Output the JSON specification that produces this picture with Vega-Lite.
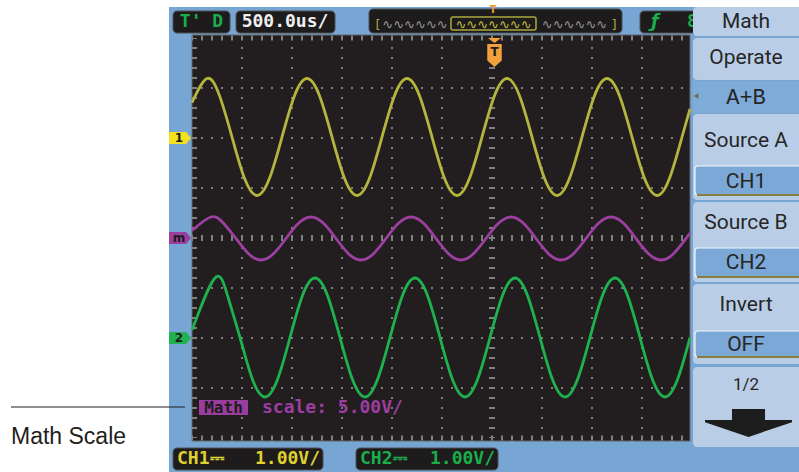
{
"$schema":"https://vega.github.io/schema/vega-lite/v6.json",
"width":799,"height":472,"autosize":{"type":"none"},"padding":0,
"background":"#ffffff",
"config":{"view":{"stroke":null}},
"datasets":{
"frame":[{"t":-3.23,"t2":3.2,"d":4.62,"d2":-4.8}],
"plot":[{"t":-3.0,"t2":1.98,"d":4.06,"d2":-4.06}],
"gridV":[{"t":-2.5,"d":4.0,"d2":-4.0},{"t":-2.0,"d":4.0,"d2":-4.0},{"t":-1.5,"d":4.0,"d2":-4.0},{"t":-1.0,"d":4.0,"d2":-4.0},{"t":-0.5,"d":4.0,"d2":-4.0},{"t":0.5,"d":4.0,"d2":-4.0},{"t":1.0,"d":4.0,"d2":-4.0},{"t":1.5,"d":4.0,"d2":-4.0}],
"gridH":[{"d":3,"t":-3.0,"t2":1.98},{"d":2,"t":-3.0,"t2":1.98},{"d":1,"t":-3.0,"t2":1.98},{"d":-1,"t":-3.0,"t2":1.98},{"d":-2,"t":-3.0,"t2":1.98},{"d":-3,"t":-3.0,"t2":1.98}],
"ticks":[{"kind":"edge","t":-3.0,"t2":1.98,"d":4.0,"d2":4.0},{"kind":"edge","t":-3.0,"t2":1.98,"d":-4.0,"d2":-4.0},{"kind":"edge","t":-2.975,"t2":-2.975,"d":4.0,"d2":-4.0},{"kind":"center","t":-3.0,"t2":1.98,"d":0,"d2":0},{"kind":"center","t":0,"t2":0,"d":4.0,"d2":-4.0}],
"traces":[
{"ch":"CH1","t":-3.0,"d":2.708},{"ch":"CH1","t":-2.85,"d":3.19},{"ch":"CH1","t":-2.725,"d":2.847},{"ch":"CH1","t":-2.6,"d":2.02},{"ch":"CH1","t":-2.475,"d":1.193},{"ch":"CH1","t":-2.35,"d":0.85},{"ch":"CH1","t":-2.225,"d":1.193},{"ch":"CH1","t":-2.1,"d":2.02},{"ch":"CH1","t":-1.975,"d":2.847},{"ch":"CH1","t":-1.85,"d":3.19},{"ch":"CH1","t":-1.725,"d":2.847},{"ch":"CH1","t":-1.6,"d":2.02},{"ch":"CH1","t":-1.475,"d":1.193},{"ch":"CH1","t":-1.35,"d":0.85},{"ch":"CH1","t":-1.225,"d":1.193},{"ch":"CH1","t":-1.1,"d":2.02},{"ch":"CH1","t":-0.975,"d":2.847},{"ch":"CH1","t":-0.85,"d":3.19},{"ch":"CH1","t":-0.725,"d":2.847},{"ch":"CH1","t":-0.6,"d":2.02},{"ch":"CH1","t":-0.475,"d":1.193},{"ch":"CH1","t":-0.35,"d":0.85},{"ch":"CH1","t":-0.225,"d":1.193},{"ch":"CH1","t":-0.1,"d":2.02},{"ch":"CH1","t":0.025,"d":2.847},{"ch":"CH1","t":0.15,"d":3.19},{"ch":"CH1","t":0.275,"d":2.847},{"ch":"CH1","t":0.4,"d":2.02},{"ch":"CH1","t":0.525,"d":1.193},{"ch":"CH1","t":0.65,"d":0.85},{"ch":"CH1","t":0.775,"d":1.193},{"ch":"CH1","t":0.9,"d":2.02},{"ch":"CH1","t":1.025,"d":2.847},{"ch":"CH1","t":1.15,"d":3.19},{"ch":"CH1","t":1.275,"d":2.847},{"ch":"CH1","t":1.4,"d":2.02},{"ch":"CH1","t":1.525,"d":1.193},{"ch":"CH1","t":1.65,"d":0.85},{"ch":"CH1","t":1.775,"d":1.193},{"ch":"CH1","t":1.9,"d":2.02},{"ch":"CH1","t":1.98,"d":2.584},
{"ch":"CH2","t":-3.0,"d":-1.841},{"ch":"CH2","t":-2.77,"d":-0.8},{"ch":"CH2","t":-2.645,"d":-1.149},{"ch":"CH2","t":-2.52,"d":-1.99},{"ch":"CH2","t":-2.395,"d":-2.831},{"ch":"CH2","t":-2.27,"d":-3.18},{"ch":"CH2","t":-2.145,"d":-2.831},{"ch":"CH2","t":-2.02,"d":-1.99},{"ch":"CH2","t":-1.895,"d":-1.149},{"ch":"CH2","t":-1.77,"d":-0.8},{"ch":"CH2","t":-1.645,"d":-1.149},{"ch":"CH2","t":-1.52,"d":-1.99},{"ch":"CH2","t":-1.395,"d":-2.831},{"ch":"CH2","t":-1.27,"d":-3.18},{"ch":"CH2","t":-1.145,"d":-2.831},{"ch":"CH2","t":-1.02,"d":-1.99},{"ch":"CH2","t":-0.895,"d":-1.149},{"ch":"CH2","t":-0.77,"d":-0.8},{"ch":"CH2","t":-0.645,"d":-1.149},{"ch":"CH2","t":-0.52,"d":-1.99},{"ch":"CH2","t":-0.395,"d":-2.831},{"ch":"CH2","t":-0.27,"d":-3.18},{"ch":"CH2","t":-0.145,"d":-2.831},{"ch":"CH2","t":-0.02,"d":-1.99},{"ch":"CH2","t":0.105,"d":-1.149},{"ch":"CH2","t":0.23,"d":-0.8},{"ch":"CH2","t":0.355,"d":-1.149},{"ch":"CH2","t":0.48,"d":-1.99},{"ch":"CH2","t":0.605,"d":-2.831},{"ch":"CH2","t":0.73,"d":-3.18},{"ch":"CH2","t":0.855,"d":-2.831},{"ch":"CH2","t":0.98,"d":-1.99},{"ch":"CH2","t":1.105,"d":-1.149},{"ch":"CH2","t":1.23,"d":-0.8},{"ch":"CH2","t":1.355,"d":-1.149},{"ch":"CH2","t":1.48,"d":-1.99},{"ch":"CH2","t":1.605,"d":-2.831},{"ch":"CH2","t":1.73,"d":-3.18},{"ch":"CH2","t":1.855,"d":-2.831},{"ch":"CH2","t":1.98,"d":-1.99},
{"ch":"Math","t":-3.0,"d":0.148},{"ch":"Math","t":-2.81,"d":0.42},{"ch":"Math","t":-2.685,"d":0.294},{"ch":"Math","t":-2.56,"d":-0.01},{"ch":"Math","t":-2.435,"d":-0.314},{"ch":"Math","t":-2.31,"d":-0.44},{"ch":"Math","t":-2.185,"d":-0.314},{"ch":"Math","t":-2.06,"d":-0.01},{"ch":"Math","t":-1.935,"d":0.294},{"ch":"Math","t":-1.81,"d":0.42},{"ch":"Math","t":-1.685,"d":0.294},{"ch":"Math","t":-1.56,"d":-0.01},{"ch":"Math","t":-1.435,"d":-0.314},{"ch":"Math","t":-1.31,"d":-0.44},{"ch":"Math","t":-1.185,"d":-0.314},{"ch":"Math","t":-1.06,"d":-0.01},{"ch":"Math","t":-0.935,"d":0.294},{"ch":"Math","t":-0.81,"d":0.42},{"ch":"Math","t":-0.685,"d":0.294},{"ch":"Math","t":-0.56,"d":-0.01},{"ch":"Math","t":-0.435,"d":-0.314},{"ch":"Math","t":-0.31,"d":-0.44},{"ch":"Math","t":-0.185,"d":-0.314},{"ch":"Math","t":-0.06,"d":-0.01},{"ch":"Math","t":0.065,"d":0.294},{"ch":"Math","t":0.19,"d":0.42},{"ch":"Math","t":0.315,"d":0.294},{"ch":"Math","t":0.44,"d":-0.01},{"ch":"Math","t":0.565,"d":-0.314},{"ch":"Math","t":0.69,"d":-0.44},{"ch":"Math","t":0.815,"d":-0.314},{"ch":"Math","t":0.94,"d":-0.01},{"ch":"Math","t":1.065,"d":0.294},{"ch":"Math","t":1.19,"d":0.42},{"ch":"Math","t":1.315,"d":0.294},{"ch":"Math","t":1.44,"d":-0.01},{"ch":"Math","t":1.565,"d":-0.314},{"ch":"Math","t":1.69,"d":-0.44},{"ch":"Math","t":1.815,"d":-0.314},{"ch":"Math","t":1.94,"d":-0.01},{"ch":"Math","t":1.98,"d":0.097}
],
"markers":[{"ch":"CH1","t":-3.12,"d":2},{"ch":"Math","t":-3.12,"d":0},{"ch":"CH2","t":-3.12,"d":-2}],
"hdrBoxes":[{"t":-3.19,"t2":-2.62,"d":4.54,"d2":4.1},{"t":-2.56,"t2":-1.57,"d":4.54,"d2":4.1},{"t":-1.23,"t2":1.3,"d":4.58,"d2":4.1},{"t":1.48,"t2":2.1,"d":4.54,"d2":4.1},{"t":-3.19,"t2":-1.69,"d":-4.2,"d2":-4.64},{"t":-1.36,"t2":0.06,"d":-4.2,"d2":-4.64}],
"ovWin":[{"t":-0.41,"t2":0.44,"d":4.42,"d2":4.16}],
"mathBox":[{"t":-2.93,"t2":-2.44,"d":-3.24,"d2":-3.54}],
"trigMark":[{"t":0.025,"d":3.71}],
"txt":[
{"s":"mc","label":"T' D","t":-2.905,"d":4.32,"g":"green"},
{"s":"mc","label":"500.0us/","t":-2.07,"d":4.32,"g":"white"},
{"s":"mcs","label":"Math","t":-2.685,"d":-3.39,"g":"dark"},
{"s":"ml","label":"CH1⎓","t":-3.15,"d":-4.42,"g":"yellow"},
{"s":"ml","label":"CH2⎓","t":-1.32,"d":-4.42,"g":"green"},
{"s":"ml","label":"scale: 5.00V/","t":-2.3,"d":-3.39,"g":"purple"},
{"s":"ml","label":"8","t":1.95,"d":4.32,"g":"green"},
{"s":"mr","label":"1.00V/","t":-1.72,"d":-4.42,"g":"yellow"},
{"s":"mr","label":"1.00V/","t":0.03,"d":-4.42,"g":"green"},
{"s":"zz","label":"∿∿∿∿∿∿","t":-0.77,"d":4.27,"g":"gray"},
{"s":"zz","label":"∿∿∿∿∿∿∿","t":0.015,"d":4.27,"g":"yellowz"},
{"s":"zz","label":"∿∿∿∿∿∿","t":0.825,"d":4.27,"g":"gray"},
{"s":"zz","label":"[","t":-1.14,"d":4.27,"g":"olive"},
{"s":"zz","label":"]","t":1.22,"d":4.27,"g":"olive"},
{"s":"top","label":"T","t":0.01,"d":4.56,"g":"orange"},
{"s":"sm","label":"T","t":0.025,"d":3.72,"g":"dark"},
{"s":"sm","label":"1","t":-3.13,"d":2,"g":"dark"},
{"s":"sm","label":"m","t":-3.13,"d":0,"g":"dark"},
{"s":"sm","label":"2","t":-3.13,"d":-2,"g":"dark"},
{"s":"trig","label":"ƒ","t":1.63,"d":4.32,"g":"green"}
],
"menuBtns":[{"t":2.01,"t2":3.2,"d":4.62,"d2":4.04},{"t":2.01,"t2":3.2,"d":4.0,"d2":3.16},{"t":2.01,"t2":3.2,"d":2.48,"d2":0.76},{"t":2.01,"t2":3.2,"d":0.72,"d2":-0.88},{"t":2.01,"t2":3.2,"d":-0.92,"d2":-2.52},{"t":2.01,"t2":3.2,"d":-2.58,"d2":-4.18}],
"selRow":[{"t":2.01,"t2":3.2,"d":3.14,"d2":2.5}],
"valBoxes":[{"t":2.03,"t2":3.2,"d":1.44,"d2":0.86},{"t":2.03,"t2":3.2,"d":-0.2,"d2":-0.78},{"t":2.03,"t2":3.2,"d":-1.86,"d2":-2.38}],
"valLines":[{"t":2.05,"t2":3.2,"d":0.86},{"t":2.05,"t2":3.2,"d":-0.78},{"t":2.05,"t2":3.2,"d":-2.38}],
"menuText":[
{"f":"s","label":"Math","t":2.54,"d":4.32},
{"f":"s","label":"Operate","t":2.54,"d":3.6},
{"f":"m","label":"A+B","t":2.54,"d":2.82},
{"f":"s","label":"Source A","t":2.54,"d":1.94},
{"f":"s","label":"CH1","t":2.54,"d":1.12},
{"f":"s","label":"Source B","t":2.54,"d":0.3},
{"f":"s","label":"CH2","t":2.54,"d":-0.5},
{"f":"s","label":"Invert","t":2.54,"d":-1.34},
{"f":"s","label":"OFF","t":2.54,"d":-2.14},
{"f":"h","label":"1/2","t":2.54,"d":-2.94}
],
"menuTri":[{"t":2.04,"d":2.84}],
"arrow":[{"t":2.565,"d":-3.7}],
"annLine":[{"t":-4.81,"t2":-3.07,"d":-3.38}],
"annText":[{"label":"Math Scale","t":-4.81,"d":-3.98}]
},
"encoding":{
"x":{"field":"t","type":"quantitative","scale":{"domain":[-4.92,3.07],"nice":false,"zero":false},"axis":null},
"y":{"field":"d","type":"quantitative","scale":{"domain":[-4.68,4.76],"nice":false,"zero":false},"axis":null}
},
"layer":[
{"data":{"name":"frame"},"mark":{"type":"rect","fill":"#77a6d5"},"encoding":{"x2":{"field":"t2"},"y2":{"field":"d2"}}},
{"data":{"name":"hdrBoxes"},"mark":{"type":"rect","fill":"#1d1b1c","stroke":"#505050","strokeWidth":1,"cornerRadius":4},"encoding":{"x2":{"field":"t2"},"y2":{"field":"d2"}}},
{"data":{"name":"plot"},"mark":{"type":"rect","fill":"#221e1f","stroke":"#666666","strokeWidth":1},"encoding":{"x2":{"field":"t2"},"y2":{"field":"d2"}}},
{"data":{"name":"gridV"},"mark":{"type":"rule","color":"#7d7d7d","strokeWidth":2,"strokeDash":[2,8],"strokeDashOffset":1},"encoding":{"y2":{"field":"d2"}}},
{"data":{"name":"gridH"},"mark":{"type":"rule","color":"#7d7d7d","strokeWidth":2,"strokeDash":[2,8],"strokeDashOffset":1},"encoding":{"x2":{"field":"t2"}}},
{"data":{"name":"ticks"},"transform":[{"filter":"datum.kind == 'edge'"}],"mark":{"type":"rule","color":"#808080","strokeWidth":5,"strokeDash":[2,8],"strokeDashOffset":1},"encoding":{"x2":{"field":"t2"},"y2":{"field":"d2"}}},
{"data":{"name":"ticks"},"transform":[{"filter":"datum.kind == 'center'"}],"mark":{"type":"rule","color":"#808080","strokeWidth":6,"strokeDash":[2,8],"strokeDashOffset":1},"encoding":{"x2":{"field":"t2"},"y2":{"field":"d2"}}},
{"data":{"name":"traces"},"mark":{"type":"line","strokeWidth":2.8,"interpolate":"natural"},"encoding":{"stroke":{"field":"ch","type":"nominal","scale":{"domain":["CH1","Math","CH2"],"range":["#b4b53c","#9b3fa0","#1fb14f"]},"legend":null}}},
{"data":{"name":"markers"},"mark":{"type":"point","filled":true,"opacity":1,"size":484,"strokeWidth":0,"shape":"M-1,-0.55 L0.55,-0.55 L1,0 L0.55,0.55 L-1,0.55 Z"},"encoding":{"fill":{"field":"ch","type":"nominal","scale":{"domain":["CH1","Math","CH2"],"range":["#f3e11e","#9b3ea0","#1fb24f"]},"legend":null}}},
{"data":{"name":"ovWin"},"mark":{"type":"rect","fillOpacity":0,"stroke":"#aaa93c","strokeWidth":1.5,"cornerRadius":2},"encoding":{"x2":{"field":"t2"},"y2":{"field":"d2"}}},
{"data":{"name":"trigMark"},"mark":{"type":"point","filled":true,"opacity":1,"size":841,"strokeWidth":0,"color":"#f0a03c","shape":"M-0.45,-1 L0.45,-1 L0,-0.65 Z M-0.5,-0.58 L0.5,-0.58 L0.5,0.55 L0,1 L-0.5,0.55 Z"}},
{"data":{"name":"mathBox"},"mark":{"type":"rect","fill":"#9b3d9f"},"encoding":{"x2":{"field":"t2"},"y2":{"field":"d2"}}},
{"data":{"name":"txt"},"transform":[{"filter":"datum.s == 'mc'"}],"mark":{"type":"text","font":"DejaVu Sans Mono","fontSize":18,"fontWeight":"bold","align":"center","baseline":"middle"},"encoding":{"text":{"field":"label"},"color":{"field":"g","type":"nominal","scale":{"domain":["green","white","yellow","purple","dark","gray","yellowz","olive","orange"],"range":["#1aae4b","#f0f0f0","#dfd12e","#9c3ea0","#1c1c1c","#9a9a9a","#c4c23c","#a9a83c","#f0962e"]},"legend":null}}},
{"data":{"name":"txt"},"transform":[{"filter":"datum.s == 'mcs'"}],"mark":{"type":"text","font":"DejaVu Sans Mono","fontSize":16,"fontWeight":"bold","align":"center","baseline":"middle"},"encoding":{"text":{"field":"label"},"color":{"field":"g","type":"nominal","scale":{"domain":["green","white","yellow","purple","dark","gray","yellowz","olive","orange"],"range":["#1aae4b","#f0f0f0","#dfd12e","#9c3ea0","#1c1c1c","#9a9a9a","#c4c23c","#a9a83c","#f0962e"]},"legend":null}}},
{"data":{"name":"txt"},"transform":[{"filter":"datum.s == 'ml'"}],"mark":{"type":"text","font":"DejaVu Sans Mono","fontSize":18,"fontWeight":"bold","align":"left","baseline":"middle"},"encoding":{"text":{"field":"label"},"color":{"field":"g","type":"nominal","scale":{"domain":["green","white","yellow","purple","dark","gray","yellowz","olive","orange"],"range":["#1aae4b","#f0f0f0","#dfd12e","#9c3ea0","#1c1c1c","#9a9a9a","#c4c23c","#a9a83c","#f0962e"]},"legend":null}}},
{"data":{"name":"txt"},"transform":[{"filter":"datum.s == 'mr'"}],"mark":{"type":"text","font":"DejaVu Sans Mono","fontSize":18,"fontWeight":"bold","align":"right","baseline":"middle"},"encoding":{"text":{"field":"label"},"color":{"field":"g","type":"nominal","scale":{"domain":["green","white","yellow","purple","dark","gray","yellowz","olive","orange"],"range":["#1aae4b","#f0f0f0","#dfd12e","#9c3ea0","#1c1c1c","#9a9a9a","#c4c23c","#a9a83c","#f0962e"]},"legend":null}}},
{"data":{"name":"txt"},"transform":[{"filter":"datum.s == 'zz'"}],"mark":{"type":"text","font":"DejaVu Sans","fontSize":13,"align":"center","baseline":"middle"},"encoding":{"text":{"field":"label"},"color":{"field":"g","type":"nominal","scale":{"domain":["green","white","yellow","purple","dark","gray","yellowz","olive","orange"],"range":["#1aae4b","#f0f0f0","#dfd12e","#9c3ea0","#1c1c1c","#9a9a9a","#c4c23c","#a9a83c","#f0962e"]},"legend":null}}},
{"data":{"name":"txt"},"transform":[{"filter":"datum.s == 'top'"}],"mark":{"type":"text","font":"DejaVu Sans","fontSize":10,"fontWeight":"bold","align":"center","baseline":"middle"},"encoding":{"text":{"field":"label"},"color":{"field":"g","type":"nominal","scale":{"domain":["green","white","yellow","purple","dark","gray","yellowz","olive","orange"],"range":["#1aae4b","#f0f0f0","#dfd12e","#9c3ea0","#1c1c1c","#9a9a9a","#c4c23c","#a9a83c","#f0962e"]},"legend":null}}},
{"data":{"name":"txt"},"transform":[{"filter":"datum.s == 'sm'"}],"mark":{"type":"text","font":"DejaVu Sans","fontSize":12,"fontWeight":"bold","align":"center","baseline":"middle"},"encoding":{"text":{"field":"label"},"color":{"field":"g","type":"nominal","scale":{"domain":["green","white","yellow","purple","dark","gray","yellowz","olive","orange"],"range":["#1aae4b","#f0f0f0","#dfd12e","#9c3ea0","#1c1c1c","#9a9a9a","#c4c23c","#a9a83c","#f0962e"]},"legend":null}}},
{"data":{"name":"txt"},"transform":[{"filter":"datum.s == 'trig'"}],"mark":{"type":"text","font":"DejaVu Sans","fontSize":18,"fontWeight":"bold","fontStyle":"italic","align":"center","baseline":"middle"},"encoding":{"text":{"field":"label"},"color":{"field":"g","type":"nominal","scale":{"domain":["green","white","yellow","purple","dark","gray","yellowz","olive","orange"],"range":["#1aae4b","#f0f0f0","#dfd12e","#9c3ea0","#1c1c1c","#9a9a9a","#c4c23c","#a9a83c","#f0962e"]},"legend":null}}},
{"data":{"name":"menuBtns"},"mark":{"type":"rect","fill":"#b9cee6","cornerRadius":4},"encoding":{"x2":{"field":"t2"},"y2":{"field":"d2"}}},
{"data":{"name":"selRow"},"mark":{"type":"rect","fill":"#7fabd8"},"encoding":{"x2":{"field":"t2"},"y2":{"field":"d2"}}},
{"data":{"name":"valBoxes"},"mark":{"type":"rect","fill":"#7ba8d6","stroke":"#f2f6fa","strokeWidth":1.2,"cornerRadius":3},"encoding":{"x2":{"field":"t2"},"y2":{"field":"d2"}}},
{"data":{"name":"valLines"},"mark":{"type":"rule","color":"#8a7d40","strokeWidth":2},"encoding":{"x2":{"field":"t2"}}},
{"data":{"name":"menuText"},"transform":[{"filter":"datum.f == 's'"}],"mark":{"type":"text","font":"Roboto","fontSize":21,"color":"#262626","align":"center","baseline":"middle"},"encoding":{"text":{"field":"label"}}},
{"data":{"name":"menuText"},"transform":[{"filter":"datum.f == 'h'"}],"mark":{"type":"text","font":"Roboto","fontSize":17,"color":"#262626","align":"center","baseline":"middle"},"encoding":{"text":{"field":"label"}}},
{"data":{"name":"menuText"},"transform":[{"filter":"datum.f == 'm'"}],"mark":{"type":"text","font":"Liberation Mono","fontSize":22,"color":"#262626","align":"center","baseline":"middle"},"encoding":{"text":{"field":"label"}}},
{"data":{"name":"menuTri"},"mark":{"type":"point","shape":"triangle-left","size":30,"filled":true,"opacity":1,"color":"#6c6c4c"}},
{"data":{"name":"arrow"},"mark":{"type":"point","filled":true,"opacity":1,"size":7569,"strokeWidth":0,"color":"#1d1d1d","shape":"M-0.38,-0.32 L0.38,-0.32 L0.38,-0.07 L1,-0.07 L1,-0.02 L0,0.32 L-1,-0.02 L-1,-0.07 L-0.38,-0.07 Z"}},
{"data":{"name":"annLine"},"mark":{"type":"rule","color":"#231f20","strokeWidth":1},"encoding":{"x2":{"field":"t2"}}},
{"data":{"name":"annText"},"mark":{"type":"text","font":"Liberation Sans","fontSize":23,"color":"#231f20","align":"left","baseline":"middle"},"encoding":{"text":{"field":"label"}}}
]
}
